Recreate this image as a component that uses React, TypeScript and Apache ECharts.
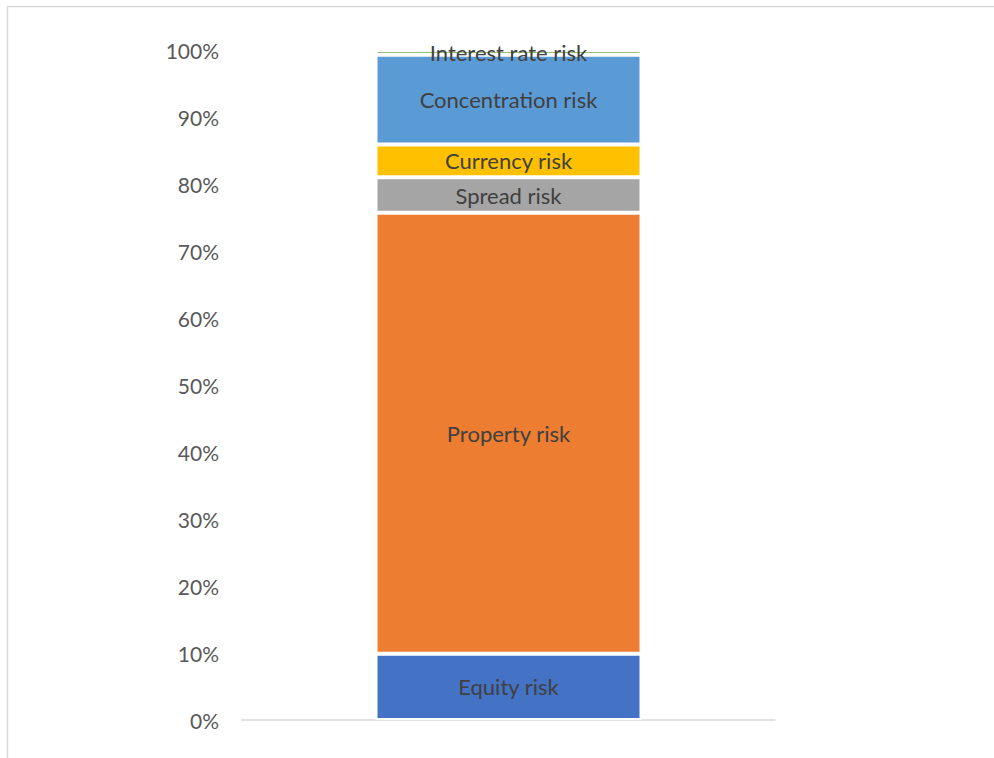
import React, { useEffect, useRef } from "react";
import * as echarts from "echarts";

const categories: string[] = [""];
const seriesNames: string[] = [
  "Equity risk",
  "Property risk",
  "Spread risk",
  "Currency risk",
  "Concentration risk",
  "Interest rate risk",
];
const seriesValues: number[] = [9.9, 65.8, 5.3, 4.9, 13.4, 0.7];
const seriesColors: string[] = ["#4472C4", "#ED7D31", "#A5A5A5", "#FFC000", "#5B9BD5", "#70AD47"];

export default function App() {
  const ref = useRef<HTMLDivElement>(null);
  useEffect(() => {
    document.body.style.margin = "0";
    const chart = echarts.init(ref.current!, undefined, { renderer: "svg" });
    chart.setOption({
      animation: false,
      backgroundColor: "#ffffff",
      grid: { left: 242, right: 219, top: 50, bottom: 38, containLabel: false },
      graphic: [
        {
          type: "rect",
          shape: { x: 7.5, y: 6.5, width: 1100, height: 900 },
          style: { fill: "none", stroke: "#d9d9d9", lineWidth: 1.5 },
          silent: true,
        },
      ],
      xAxis: {
        type: "category",
        data: categories,
        axisLine: { show: true, lineStyle: { color: "#d9d9d9", width: 1.5 } },
        axisTick: { show: false },
        axisLabel: { show: false },
      },
      yAxis: {
        type: "value",
        min: 0,
        max: 100,
        interval: 10,
        axisLine: { show: false },
        axisTick: { show: false },
        splitLine: { show: false },
        axisLabel: {
          formatter: "{value}%",
          color: "#595959",
          fontFamily: "Lato",
          fontSize: 21,
          margin: 23,
        },
      },
      series: seriesNames.map((name, i) => ({
        name,
        type: "bar",
        stack: "total",
        barWidth: 266,
        data: [seriesValues[i]],
        itemStyle: { color: seriesColors[i], borderColor: "#ffffff", borderWidth: 2 },
        label: {
          show: true,
          position: "inside",
          formatter: name,
          color: "#404040",
          fontFamily: "Lato",
          fontSize: 22,
        },
      })),
    });
    return () => chart.dispose();
  }, []);
  return <div ref={ref} style={{ width: 994, height: 758 }} />;
}
